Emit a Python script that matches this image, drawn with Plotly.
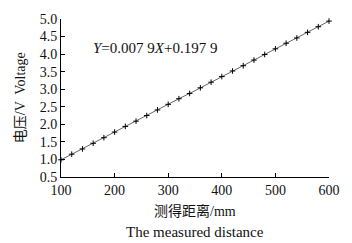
import plotly.graph_objects as go

distance_mm = [100, 120, 140, 160, 180, 200, 220, 240, 260, 280, 300, 320, 340,
               360, 380, 400, 420, 440, 460, 480, 500, 520, 540, 560, 580, 600]
voltage_v = [0.99, 1.15, 1.30, 1.46, 1.62, 1.78, 1.94, 2.09, 2.25, 2.41, 2.57, 2.73, 2.88,
             3.04, 3.20, 3.36, 3.52, 3.67, 3.83, 3.99, 4.15, 4.31, 4.46, 4.62, 4.78, 4.94]
x_ticks = [100, 200, 300, 400, 500, 600]
y_ticks = [0.5, 1.0, 1.5, 2.0, 2.5, 3.0, 3.5, 4.0, 4.5, 5.0]

FONT = "Liberation Serif, Times New Roman, Noto Sans CJK SC, serif"

fig = go.Figure()
fig.add_trace(go.Scatter(
    x=distance_mm, y=voltage_v, mode="lines+markers",
    line=dict(color="#666666", width=1),
    marker=dict(symbol="cross-thin", size=4, color="black",
                line=dict(color="black", width=1)),
    cliponaxis=False, showlegend=False,
))

fig.update_layout(
    width=352, height=243,
    margin=dict(l=61, r=21, t=15, b=66),
    paper_bgcolor="white", plot_bgcolor="white",
    font=dict(family=FONT, size=14, color="#111111"),
    xaxis=dict(range=[100, 600], tickvals=x_ticks, ticktext=[str(v) for v in x_ticks],
               showline=True, linecolor="black", linewidth=1,
               ticks="inside", ticklen=4, tickcolor="black",
               showgrid=False, zeroline=False, tickfont=dict(size=14)),
    yaxis=dict(range=[0.5, 5.0], tickvals=y_ticks, ticktext=[f"{v:.1f}" for v in y_ticks],
               showline=True, linecolor="black", linewidth=1,
               ticks="inside", ticklen=4, tickcolor="black",
               showgrid=False, zeroline=False, tickfont=dict(size=14)),
    annotations=[
        dict(text="<i>Y</i>=0.007 9<i>X</i>+0.197 9", x=158, y=4.17, xref="x", yref="y",
             xanchor="left", yanchor="middle", showarrow=False, font=dict(size=15),
             borderpad=0),
        dict(text="电压/V  Voltage", x=-0.152, y=0.5, xref="paper", yref="paper",
             textangle=-90, xanchor="center", yanchor="middle", showarrow=False,
             font=dict(size=14)),
        dict(text="测得距离/mm", x=0.5, y=-0.215, xref="paper", yref="paper",
             xanchor="center", yanchor="middle", showarrow=False, font=dict(size=14)),
        dict(text="The measured distance", x=0.5, y=-0.345, xref="paper", yref="paper",
             xanchor="center", yanchor="middle", showarrow=False, font=dict(size=15),
             borderpad=0),
    ],
)

fig.write_html("out.html",
               config={"displayModeBar": False},
               post_script="document.body.style.margin='0';document.body.style.overflow='hidden';")
